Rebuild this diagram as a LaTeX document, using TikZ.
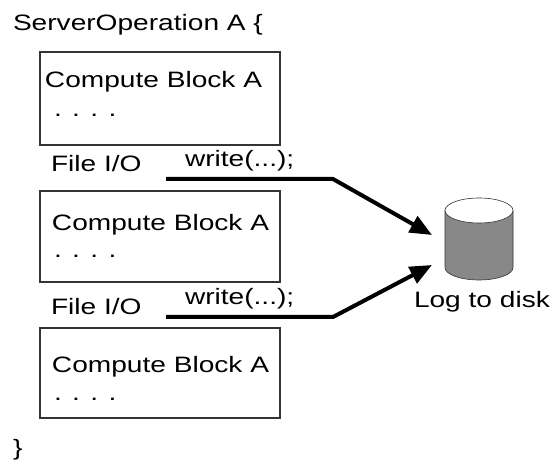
\documentclass[tikz,border=0pt]{standalone}
\usepackage{fontspec}
\setmainfont[FakeStretch=1.26]{Liberation Sans}
\usetikzlibrary{arrows.meta}
\definecolor{cylgray}{HTML}{888888}
\definecolor{boxline}{HTML}{333333}
\begin{document}
\begin{tikzpicture}[x=1pt,y=-1pt,
  lbl/.style={anchor=base west, inner sep=0pt, outer sep=0pt, font=\fontsize{22.3}{26}\selectfont},
  blockbox/.style={draw=boxline, line width=1.3pt, inner sep=0pt, outer sep=0pt, anchor=north west, minimum width=240pt},
  flow/.style={line width=4pt, -{Triangle[length=22pt,width=18pt]}}]
\useasboundingbox (0,0) rectangle (558,462);
% title and closing brace
\node[lbl] (title) at (13,31) {ServerOperation A \{};
\node[lbl] (brace) at (13,456) {\}};
% compute blocks
\node[blockbox, minimum height=93pt] (b1) at (40,52) {};
\node[blockbox, minimum height=91pt] (b2) at (40,191) {};
\node[blockbox, minimum height=90pt] (b3) at (40,328) {};
\node[lbl] (c1) at (45,88) {Compute Block A};
\node[lbl] (d1) at (54,117) {. . . .};
\node[lbl] (c2) at (52,231) {Compute Block A};
\node[lbl] (d2) at (54,258) {. . . .};
\node[lbl] (c3) at (52,373) {Compute Block A};
\node[lbl] (d3) at (54,401) {. . . .};
% file I/O labels
\node[lbl] (f1) at (51,172) {File I/O};
\node[lbl] (w1) at (185,167) {write(...);};
\node[lbl] (f2) at (51,315) {File I/O};
\node[lbl] (w2) at (185,305) {write(...);};
% disk
\path[draw=boxline, fill=cylgray, line width=0.6pt] (445,210.5) -- (445,267.5)
  arc[start angle=180, end angle=0, x radius=34, y radius=12.5] -- (513,210.5);
\draw[draw=boxline, fill=white, line width=0.6pt] (479,210.5) ellipse [x radius=34, y radius=12.5];
\node[inner sep=0pt, outer sep=0pt, minimum width=68pt, minimum height=82pt] (disk) at (479,239) {};
\node[lbl] (log) at (414,308) {Log to disk};
% connectors
\coordinate (s1) at (166,179);
\coordinate (k1) at (333,179);
\coordinate (t1) at ([xshift=-13pt,yshift=4pt]disk.west);
\coordinate (s2) at (166,317);
\coordinate (k2) at (333,317);
\coordinate (t2) at ([xshift=-13pt,yshift=-26pt]disk.west);
\draw[flow] (s1) -- (k1) -- (t1);
\draw[flow] (s2) -- (k2) -- (t2);
\end{tikzpicture}
\end{document}
